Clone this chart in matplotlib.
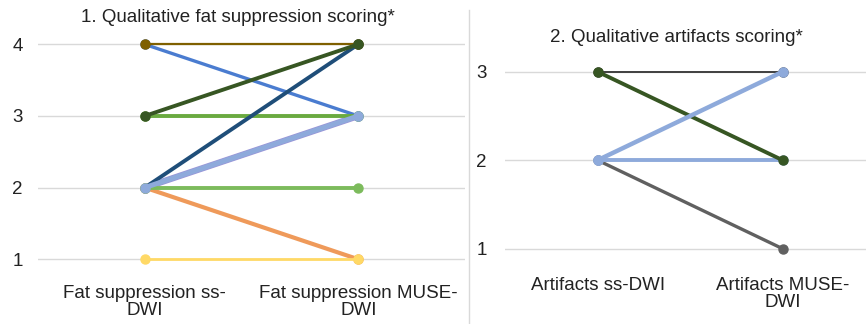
import matplotlib.pyplot as plt
import matplotlib

matplotlib.rcParams['font.family'] = ['Liberation Sans', 'DejaVu Sans']

# panel 1: fat suppression scores (ss-DWI -> MUSE-DWI), in drawing order
fat_labels = ['Fat suppression ss-\nDWI', 'Fat suppression MUSE-\nDWI']
fat_start = [4, 3, 2, 4, 3, 2, 2, 2, 1]
fat_end = [3, 3, 4, 4, 4, 1, 2, 3, 1]
fat_colours = ['#4a7cd0', '#6aaa40', '#1f4e79', '#7f6000', '#375623',
               '#ef9a5a', '#7cbb5c', '#8eaadb', '#ffd966']
fat_widths = [2.4, 2.8, 2.8, 1.6, 2.8, 3.0, 2.8, 3.6, 2.0]

# panel 2: artifact scores
art_labels = ['Artifacts ss-DWI', 'Artifacts MUSE-\nDWI']
art_start = [3, 2, 2, 3, 2]
art_end = [3, 1, 2, 2, 3]
art_colours = ['#404040', '#606060', '#8eaadb', '#375623', '#8eaadb']
art_widths = [1.4, 2.4, 2.8, 2.8, 3.2]

fig = plt.figure(figsize=[8.66, 3.24], dpi=100)
W, H = 866, 324
FS = 13.5


def panel(rect, starts, ends, colours, widths, labels, ylim, xmax, ticks):
    ax = fig.add_axes([rect[0] / W, 1 - rect[3] / H, (rect[2] - rect[0]) / W, (rect[3] - rect[1]) / H])
    for s, e, c, w in zip(starts, ends, colours, widths):
        ax.plot([0, 1], [s, e], color=c, lw=w, marker='o', ms=6.5,
                markerfacecolor=c, markeredgecolor=c, solid_capstyle='round')
    ax.set_xlim(-0.5, xmax)
    ax.set_ylim(*ylim)
    ax.set_yticks(ticks)
    ax.set_xticks([0, 1])
    ax.set_xticklabels(labels, fontsize=FS, color='#222222', linespacing=1.0)
    ax.tick_params(axis='both', length=0, labelsize=FS, colors='#222222')
    ax.tick_params(axis='x', pad=11)
    ax.grid(axis='y', color='#d9d9d9', lw=1)
    ax.set_axisbelow(True)
    for sp in ax.spines.values():
        sp.set_visible(False)
    return ax


ax1 = panel([38, 30, 465, 270], fat_start, fat_end, fat_colours, fat_widths,
            fat_labels, (0.85, 4.2), 1.5, [1, 2, 3, 4])
# lavender edge under the light blue 2->3 line
ax1.plot([0, 1], [2, 3], color='#9a94d8', lw=4.6, zorder=1.9)
ax1.tick_params(axis='y', pad=11)

ax2 = panel([505, 54, 866, 262], art_start, art_end, art_colours, art_widths,
            art_labels, (0.85, 3.2), 1.45, [1, 2, 3])
ax2.tick_params(axis='y', pad=13)

fig.text(238 / W, 1 - 18 / H, '1. Qualitative fat suppression scoring*', ha='center', va='center',
         fontsize=FS, color='#222222')
fig.text(676 / W, 1 - 37 / H, '2. Qualitative artifacts scoring*', ha='center', va='center',
         fontsize=FS, color='#222222')
fig.add_artist(plt.Line2D([469 / W, 469 / W], [0, 1 - 10 / H], color='#d9d9d9', lw=1))

plt.savefig('out.png', dpi=100)
